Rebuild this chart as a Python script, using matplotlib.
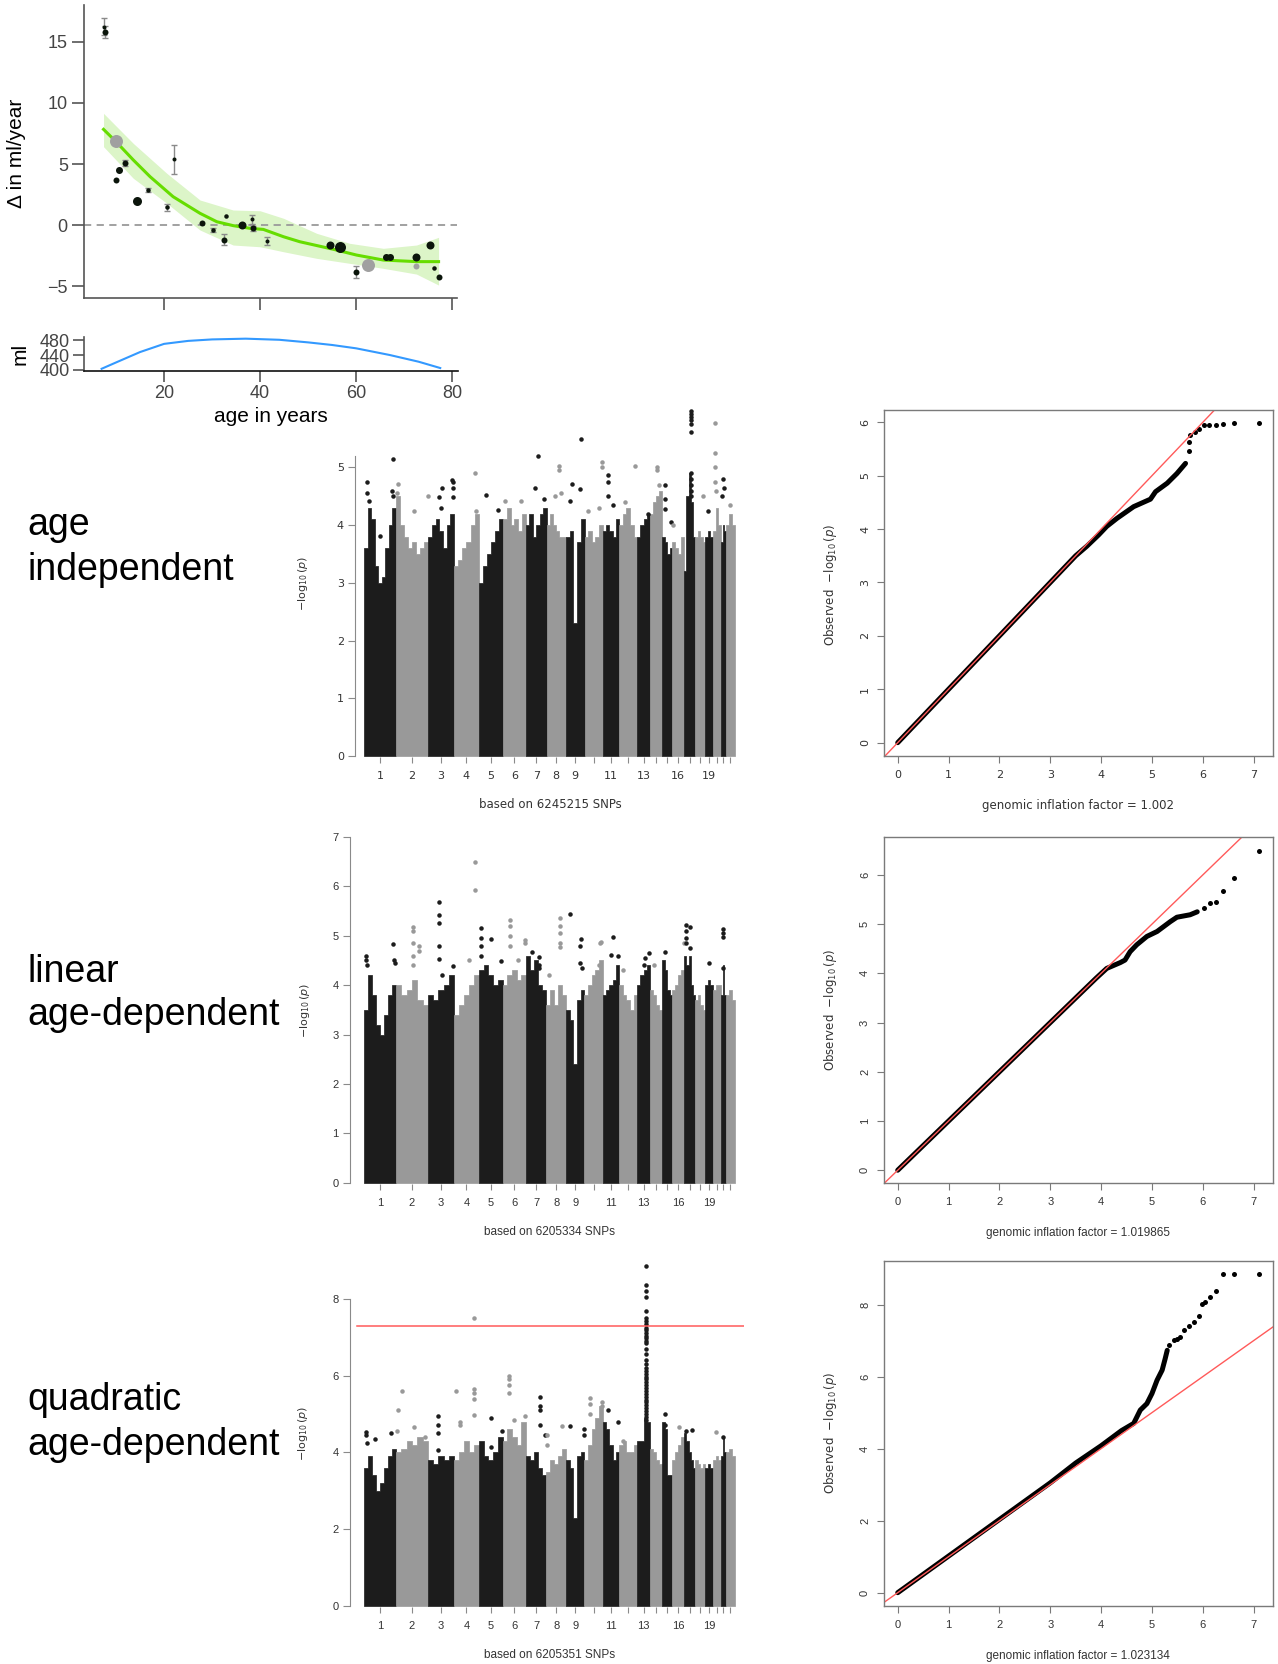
import numpy as np
import matplotlib
matplotlib.use("Agg")
import matplotlib.pyplot as plt

W, H, DPI = 1278, 1664, 100
PX = 72.0 / DPI  # points per pixel

# ---------------- data: top-left panel (delta by age) ----------------
age = [7.4, 7.8, 10.0, 10.6, 10.1, 11.9, 14.4, 16.7, 20.7, 22.1, 28.0, 30.2, 32.9, 32.5,
       36.2, 38.3, 38.5, 41.5, 54.6, 56.7, 60.1, 62.6, 66.3, 67.1, 72.4, 72.6, 75.4, 76.3, 77.3]
delta = [16.26, 15.8, 6.91, 4.51, 3.69, 5.05, 1.94, 2.87, 1.45, 5.38, 0.19, -0.41, 0.74, -1.2,
         -0.03, 0.46, -0.25, -1.31, -1.64, -1.78, -3.83, -3.28, -2.65, -2.65, -2.65, -3.33, -1.64, -3.52, -4.26]
delta_se = [0.7, 0.5, 0, 0, 0, 0.25, 0, 0.15, 0.3, 1.2, 0, 0.2, 0, 0.45,
            0, 0.4, 0.2, 0.35, 0, 0, 0.5, 0, 0, 0, 0, 0, 0, 0, 0]
study_weight = [4, 6, 13, 7, 6, 6, 9, 4.5, 4.5, 4, 6, 4.5, 4.5, 6,
                8, 4, 6, 4, 8, 11, 6, 13, 7, 7, 8, 6, 8, 4.5, 6]
study_group = ['b', 'b', 'g', 'b', 'b', 'b', 'b', 'b', 'b', 'b', 'b', 'b', 'b', 'b',
               'b', 'b', 'b', 'b', 'b', 'b', 'b', 'g', 'b', 'b', 'b', 'g', 'b', 'b', 'b']

fit_age = [7.4, 10, 13.6, 17.1, 21.9, 27.5, 31, 34.4, 37.9, 40.7, 44.9, 48.3, 55.3, 60.1, 65.7, 72.6, 77.2]
fit_val = [7.84, 6.83, 5.33, 3.96, 2.32, 0.96, 0.27, -0.05, -0.27, -0.36, -0.96, -1.37, -1.99, -2.46, -2.87, -3.0, -3.0]
band_age = [7.4, 13.6, 20.6, 27.5, 34.4, 40.0, 44.9, 51.8, 58.7, 65.7, 72.6, 77.2]
band_hi = [9.15, 6.69, 4.23, 2.05, 1.23, 1.17, 0.55, -0.68, -1.5, -1.91, -1.64, -1.01]
band_lo = [6.42, 3.83, 1.78, -0.41, -1.64, -1.78, -2.19, -2.73, -3.14, -3.55, -4.02, -4.92]

vol_age = [7, 10, 15, 20, 25, 30, 37, 44, 50, 55, 60, 67, 73, 77.5]
vol_ml = [403, 420, 448, 470, 478, 482, 484, 481, 474, 467, 458, 440, 422, 405]

# ---------------- data: Manhattan plots ----------------
chrom_span = [247, 252, 199, 194, 186, 179, 160, 150, 145, 140, 129, 140, 101, 93, 78, 93, 85, 78, 60, 62, 39, 70]
chrom_labels = ['1', '2', '3', '4', '5', '6', '7', '8', '9', '', '11', '', '13', '', '', '16', '', '', '19', '', '', '']

env1 = [[3.6, 4.3, 4.1, 3.3, 3.0, 3.1, 3.6, 4.0, 4.3], [4.5, 4.0, 3.8, 3.6, 3.7, 3.5, 3.6, 3.7],
        [3.8, 4.0, 4.1, 3.9, 3.6, 4.0, 4.2], [3.3, 3.4, 3.6, 3.7, 4.0, 4.2], [3.0, 3.3, 3.5, 3.7, 3.9, 4.1],
        [4.1, 4.3, 4.0, 4.1, 3.9, 4.2], [4.0, 4.2, 3.8, 4.0, 4.2, 4.3], [4.0, 4.2, 4.0, 3.9, 3.8, 3.8],
        [3.8, 3.9, 2.3, 3.7, 4.1], [3.8, 3.9, 3.7, 3.8, 4.0], [3.9, 4.0, 3.9, 3.8, 4.1],
        [4.0, 4.2, 4.3, 4.0, 3.8], [3.8, 4.0, 4.1, 4.2], [4.2, 4.4, 4.5, 4.6], [3.8, 3.7, 3.5, 3.6],
        [3.7, 3.6, 3.5, 3.8], [3.2, 4.5, 4.9, 4.4, 3.8], [3.8, 3.9, 3.8, 3.7], [3.8, 3.9, 3.8],
        [3.9, 4.3, 4.0], [3.7, 4.0, 3.9], [4.0, 4.2, 4.0]]
peaks1 = [(1, .08, 4.75), (1, .08, 4.55), (1, .15, 4.42), (1, .5, 3.82), (1, .9, 5.15), (1, .88, 4.6), (1, .9, 4.5),
          (2, .06, 4.72), (2, .05, 4.55), (2, .55, 4.25), (2, .99, 4.5),
          (3, .4, 4.48), (3, .55, 4.65), (3, .5, 4.3), (3, .93, 4.78), (3, .96, 4.75), (3, .95, 4.48), (3, .95, 4.65),
          (4, .85, 4.9), (4, .9, 4.25), (5, .28, 4.52), (5, .78, 4.27), (6, .1, 4.42), (6, .8, 4.42),
          (7, .42, 4.65), (7, .58, 5.2), (7, .9, 4.45),
          (8, .62, 5.02), (8, .62, 4.95), (8, .45, 4.5), (8, .75, 4.55),
          (9, .33, 4.72), (9, .2, 4.42), (9, .75, 4.63), (9, .8, 5.5),
          (10, .2, 4.25), (10, .8, 4.3), (10, .98, 5.1), (10, .98, 5.0),
          (11, .3, 4.87), (11, .3, 4.75), (11, .35, 4.5), (11, .65, 4.35),
          (12, .3, 4.4), (12, .85, 5.02), (13, .8, 4.2),
          (14, .6, 5.0), (14, .6, 4.95), (14, .7, 4.7),
          (15, .3, 4.7), (15, .3, 4.45), (15, .3, 4.28), (15, .85, 4.05), (16, .1, 4.0),
          (17, .6, 5.98), (17, .6, 5.93), (17, .6, 5.88), (17, .6, 5.82), (17, .6, 5.75), (17, .6, 5.62),
          (17, .6, 4.9), (17, .6, 4.8), (17, .6, 4.7), (17, .6, 4.6), (17, .6, 4.5),
          (18, .8, 4.5), (19, .35, 4.25),
          (20, .3, 5.77), (20, .3, 5.25), (20, .3, 5.0), (20, .3, 4.75), (20, .35, 4.6),
          (21, .5, 4.8), (21, .6, 4.65), (21, .3, 4.5), (22, .5, 4.35)]

env2 = [[3.5, 4.2, 3.8, 3.2, 3.0, 3.4, 3.8, 4.0], [4.0, 3.8, 3.9, 4.1, 3.7, 3.6], [3.8, 3.7, 3.9, 4.0, 4.2],
        [3.4, 3.6, 3.8, 4.0, 4.2], [4.3, 4.4, 4.2, 4.0, 4.1], [4.0, 4.2, 4.3, 4.1, 4.2],
        [4.6, 4.3, 4.5, 4.0, 3.9], [3.6, 3.9, 3.6, 4.0, 3.8], [3.5, 3.3, 2.4, 3.7, 3.9],
        [3.8, 4.0, 4.2, 4.3, 4.5], [3.8, 3.9, 4.0, 4.1, 4.4], [4.0, 3.8, 3.7, 3.5, 3.8],
        [4.0, 4.2, 4.3, 4.4], [3.9, 3.8, 3.6, 3.5], [4.5, 4.3, 3.9, 3.8], [3.9, 4.0, 4.2, 4.3],
        [4.6, 4.4, 4.6, 4.0, 3.8], [3.7, 3.8, 3.6, 3.5], [4.0, 4.1, 4.0], [3.9, 4.0, 4.0],
        [3.8, 4.4, 3.8], [3.8, 3.9, 3.7]]
peaks2 = [(1, .08, 4.6), (1, .08, 4.5), (1, .1, 4.4), (1, .9, 4.83), (1, .95, 4.5), (1, .97, 4.45),
          (2, .52, 5.18), (2, .52, 5.1), (2, .52, 4.85), (2, .52, 4.6), (2, .52, 4.4), (2, .72, 4.8), (2, .72, 4.7),
          (3, .43, 5.68), (3, .43, 5.42), (3, .43, 5.25), (3, .43, 4.8), (3, .43, 4.52), (3, .55, 4.2), (3, .95, 4.38),
          (4, .85, 6.5), (4, .85, 5.92), (4, .6, 4.5),
          (5, .08, 5.15), (5, .1, 4.95), (5, .1, 4.8), (5, .1, 4.6), (5, .5, 4.93), (5, .92, 4.48),
          (6, .3, 5.32), (6, .3, 5.2), (6, .3, 5.0), (6, .3, 4.8), (6, .65, 4.5), (6, .98, 4.92), (6, .98, 4.85),
          (7, .3, 4.67), (7, .65, 4.58), (7, .65, 4.4), (7, .65, 4.35),
          (8, .15, 4.2), (8, .7, 5.35), (8, .7, 5.2), (8, .7, 5.05), (8, .7, 4.85), (8, .7, 4.78),
          (9, .22, 5.45), (9, .8, 4.93), (9, .75, 4.8), (9, .75, 4.45), (9, .85, 4.35),
          (10, .9, 4.88), (10, .85, 4.85), (10, .8, 4.4),
          (11, .6, 4.97), (11, .5, 4.62), (11, .95, 4.6), (12, .2, 4.3),
          (13, .6, 4.55), (13, .5, 4.4), (13, .9, 4.65), (14, .3, 4.4), (15, .3, 4.68), (16, .95, 4.85),
          (17, .2, 5.22), (17, .2, 5.1), (17, .2, 4.95), (17, .2, 4.85), (17, .55, 5.17), (17, .55, 4.75),
          (19, .5, 4.45), (21, .5, 5.13), (21, .5, 5.05), (21, .5, 4.98), (21, .5, 4.35)]

env3 = [[3.6, 3.9, 3.4, 3.0, 3.2, 3.6, 3.9, 4.1], [4.0, 4.1, 4.3, 4.2, 4.4, 4.3], [3.8, 3.7, 3.9, 3.8, 3.9],
        [3.8, 4.0, 4.3, 4.0, 4.2], [4.3, 3.9, 3.8, 4.0, 4.4], [4.3, 4.6, 4.4, 4.2, 4.8],
        [3.9, 3.8, 4.0, 3.6, 3.4], [3.5, 3.8, 3.7, 3.9, 4.1], [3.8, 3.6, 2.3, 3.9, 4.0],
        [3.8, 4.2, 4.6, 4.9, 5.2], [4.8, 4.6, 4.2, 3.8, 4.0], [4.2, 4.3, 4.0, 4.0, 4.2],
        [4.3, 4.3, 4.9, 4.8], [4.1, 4.0, 3.8, 3.7], [4.8, 4.6, 3.4, 3.4], [3.8, 4.0, 4.2, 4.4],
        [4.5, 4.3, 4.0, 3.8, 3.6], [3.8, 3.7, 3.6, 3.7], [3.6, 3.7, 3.6], [3.8, 3.9, 3.8],
        [3.9, 4.4, 4.0], [4.0, 4.1, 3.9]]
spike13 = [8.86, 8.35, 8.2, 8.05, 7.68, 7.5, 7.42, 7.35, 7.25, 7.18, 7.1, 7.03, 6.97, 6.9, 6.85, 6.7, 6.55,
           6.4, 6.3, 6.2, 6.12, 6.05, 5.97, 5.9, 5.82, 5.75, 5.68, 5.6, 5.52, 5.45, 5.37, 5.3, 5.22, 5.15,
           5.08, 5.0, 4.92, 4.85]
peaks3 = [(1, .08, 4.52), (1, .08, 4.45), (1, .1, 4.25), (1, .35, 4.35), (1, .85, 4.5),
          (2, .08, 5.1), (2, .2, 5.6), (2, .05, 4.55), (2, .55, 4.65), (2, .9, 4.4),
          (3, .4, 4.95), (3, .4, 4.7), (3, .4, 4.5), (3, .4, 4.05),
          (4, .08, 5.6), (4, .25, 4.8), (4, .25, 4.72), (4, .8, 7.5), (4, .8, 5.65), (4, .8, 5.55),
          (4, .8, 5.38), (4, .8, 4.98),
          (5, .5, 4.9), (5, .5, 4.15), (5, .95, 4.55),
          (6, .25, 6.0), (6, .25, 5.92), (6, .25, 5.75), (6, .25, 5.55), (6, .5, 4.85), (6, .97, 4.95),
          (7, .7, 5.45), (7, .7, 5.2), (7, .7, 5.1), (7, .7, 4.7), (7, .95, 4.45),
          (8, .05, 4.45), (8, .05, 4.2), (8, .8, 4.68),
          (9, .25, 4.68), (9, .95, 4.62), (9, .95, 4.45),
          (10, .3, 5.42), (10, .3, 5.25), (10, .3, 5.0), (10, .95, 5.3), (10, .95, 5.2),
          (11, .3, 5.1), (11, .95, 4.8), (12, .2, 4.3),
          (15, .3, 5.0), (15, .3, 4.7), (16, .6, 4.65), (17, .7, 4.58), (17, .2, 4.55),
          (20, .4, 4.52), (21, .5, 4.4)] + [(13, .7, v) for v in spike13]

snp_counts = ['6245215', '6205334', '6205351']
sig_threshold = 7.3

# ---------------- data: QQ plots ----------------
qq1_dense_x = [0, 3.5, 3.72, 3.95, 4.11, 4.31, 4.64, 4.97, 5.07, 5.3, 5.49, 5.66]
qq1_dense_y = [0, 3.5, 3.68, 3.89, 4.05, 4.2, 4.42, 4.56, 4.7, 4.86, 5.04, 5.23]
qq1_tail_x = [5.72, 5.72, 5.75, 5.85, 5.92, 6.02, 6.12, 6.25, 6.40, 6.61, 7.10]
qq1_tail_y = [5.47, 5.64, 5.76, 5.82, 5.87, 5.94, 5.95, 5.95, 5.96, 5.98, 5.98]

qq2_dense_x = [0, 3.9, 4.11, 4.38, 4.47, 4.57, 4.70, 4.90, 5.10, 5.23, 5.36, 5.49, 5.75, 5.89]
qq2_dense_y = [0, 3.9, 4.10, 4.22, 4.27, 4.44, 4.58, 4.75, 4.85, 4.95, 5.05, 5.14, 5.19, 5.25]
qq2_tail_x = [6.02, 6.14, 6.25, 6.40, 6.61, 7.10]
qq2_tail_y = [5.32, 5.42, 5.44, 5.68, 5.93, 6.49]

qq3_dense_x = [0, 3.0, 3.5, 4.0, 4.4, 4.64, 4.77, 4.90, 5.0, 5.1, 5.2, 5.26, 5.3]
qq3_dense_y = [0, 3.05, 3.6, 4.08, 4.5, 4.7, 5.07, 5.25, 5.53, 5.9, 6.18, 6.5, 6.73]
qq3_tail_x = [5.33, 5.43, 5.5, 5.56, 5.62, 5.72, 5.82, 5.92, 5.98, 6.05, 6.14, 6.25, 6.40, 6.61, 7.10]
qq3_tail_y = [6.87, 7.01, 7.05, 7.10, 7.29, 7.40, 7.52, 7.68, 8.01, 8.08, 8.21, 8.37, 8.86, 8.86, 8.86]

lambdas = ['1.002', '1.019865', '1.023134']
row_titles = [('age', 'independent'), ('linear', 'age-dependent'), ('quadratic', 'age-dependent')]

# ---------------- figure ----------------
fig = plt.figure(figsize=(W / DPI, H / DPI), dpi=DPI)


def rect(x0, y0, x1, y1):
    return [x0 / W, 1 - y1 / H, (x1 - x0) / W, (y1 - y0) / H]


def ftext(x, y, s, **kw):
    fig.text(x / W, 1 - y / H, s, **kw)


HELV = ['Liberation Sans', 'DejaVu Sans']

# ---- top-left main panel ----
axA = fig.add_axes(rect(84, 5, 457, 298))
axA.set_xlim(3.33, 81.04)
axA.set_ylim(-5.98, 18.03)
axA.fill_between(band_age, band_lo, band_hi, color='#dcf5c8', lw=0, zorder=1)
axA.axhline(0, color='#9a9a9a', lw=1.3, ls=(0, (4, 3)), zorder=2)
axA.plot(fit_age, fit_val, color='#66dd00', lw=2.2, zorder=3)
for a, d, se, w, g in zip(age, delta, delta_se, study_weight, study_group):
    if se > 0:
        axA.errorbar(a, d, yerr=se, fmt='none', ecolor='#8a8a8a', elinewidth=1.0,
                     capsize=2.5, capthick=1.0, zorder=4)
    axA.scatter([a], [d], s=(w * PX) ** 2, color='#0b150b' if g == 'b' else '#a0a0a0',
                lw=0, zorder=5)
for sp in ['top', 'right']:
    axA.spines[sp].set_visible(False)
for sp in ['left', 'bottom']:
    axA.spines[sp].set_color('#555555')
    axA.spines[sp].set_linewidth(1.2)
axA.set_yticks([-5, 0, 5, 10, 15])
axA.set_yticklabels(['\u22125', '0', '5', '10', '15'])
axA.set_xticks([20, 40, 60, 80])
axA.set_xticklabels([])
axA.tick_params(axis='both', length=12 * PX, width=1.2, color='#555555', labelsize=13,
                labelcolor='#444444', pad=3)
for t in axA.get_yticklabels():
    t.set_fontfamily(HELV)

# ---- top-left volume panel ----
axB = fig.add_axes(rect(84, 337, 458, 371))
axB.set_xlim(3.33, 81.2)
axB.set_ylim(397, 488.5)
axB.plot(vol_age, vol_ml, color='#3399ff', lw=1.5)
for sp in ['top', 'right']:
    axB.spines[sp].set_visible(False)
axB.spines['left'].set_color('#555555')
axB.spines['bottom'].set_color('#111111')
axB.spines['left'].set_linewidth(1.2)
axB.spines['bottom'].set_linewidth(1.2)
axB.set_yticks([400, 440, 480])
axB.set_xticks([20, 40, 60, 80])
axB.tick_params(axis='both', length=11 * PX, width=1.2, color='#555555', labelsize=13,
                labelcolor='#444444', pad=2)
for t in axB.get_yticklabels() + axB.get_xticklabels():
    t.set_fontfamily(HELV)
ftext(271, 417, 'age in years', ha='center', va='center', fontsize=15, family=HELV)
ftext(17, 153, '\u0394 in ml/year', ha='center', va='center', rotation=90, fontsize=15, family=HELV)
ftext(20, 354, 'ml', ha='center', va='center', rotation=90, fontsize=15, family=HELV)

# ---- row titles ----
for (l1, l2), yb in zip(row_titles, [(535, 580), (982, 1025), (1410, 1455)]):
    ftext(27, yb[0], l1, ha='left', va='baseline', fontsize=27, family=HELV)
    ftext(27, yb[1], l2, ha='left', va='baseline', fontsize=27, family=HELV)

# ---- Manhattan plots ----
BLACK, GRAY = '#1c1c1c', '#999999'
starts = np.concatenate([[0], np.cumsum(chrom_span)[:-1]])
mids = starts + np.array(chrom_span) / 2.0

man_specs = [
    dict(r=(355, 404, 744, 757), xl=-70, yl=(-0.017, 6.1), ticks=[0, 1, 2, 3, 4, 5], sb=5.2,
         env=env1, peaks=peaks1, fam=['DejaVu Sans'], ylab=(303, 583), xlab=(550, 805), sig=False),
    dict(r=(350, 836, 744, 1184), xl=-108, yl=(-0.026, 7.02), ticks=[0, 1, 2, 3, 4, 5, 6, 7], sb=7,
         env=env2, peaks=peaks2, fam=HELV, ylab=(305, 1010), xlab=(550, 1232), sig=False),
    dict(r=(350, 1258, 744, 1607), xl=-108, yl=(-0.026, 9.06), ticks=[0, 2, 4, 6, 8], sb=8,
         env=env3, peaks=peaks3, fam=HELV, ylab=(303, 1433), xlab=(550, 1655), sig=True),
]

for k, sp in enumerate(man_specs):
    ax = fig.add_axes(rect(*sp['r']))
    ax.set_xlim(sp['xl'], 2950)
    ax.set_ylim(*sp['yl'])
    for i, (s, L, e) in enumerate(zip(starts, chrom_span, sp['env'])):
        col = BLACK if i % 2 == 0 else GRAY
        n = len(e)
        # step-shaped envelope: each reading covers an equal slice of the chromosome
        edges = s + L * np.arange(n + 1) / n
        xs = np.repeat(edges, 2)[1:-1]
        ys = np.repeat(e, 2)
        ax.fill_between(xs, 0, ys, color=col, lw=0.5, edgecolor=col)
    for c, f, v in sp['peaks']:
        col = BLACK if (c - 1) % 2 == 0 else GRAY
        ax.plot(starts[c - 1] + f * chrom_span[c - 1], v, 'o', color=col, ms=4.5 * PX, mew=0)
    if sp['sig']:
        ax.axhline(sig_threshold, xmin=0.018, xmax=1, color='#ff5a5a', lw=1.1)
    for s_ in ['top', 'right', 'bottom']:
        ax.spines[s_].set_visible(False)
    ax.spines['left'].set_color('#8a8a8a')
    ax.spines['left'].set_bounds(0, sp['sb'])
    ax.set_yticks(sp['ticks'])
    ax.set_xticks(mids)
    ax.set_xticklabels(chrom_labels)
    ax.tick_params(axis='y', length=7 * PX, color='#8a8a8a', labelsize=8, labelcolor='#333333', pad=3)
    ax.tick_params(axis='x', length=6 * PX, color='#8a8a8a', labelsize=8, labelcolor='#333333', pad=6)
    for t in ax.get_yticklabels() + ax.get_xticklabels():
        t.set_fontfamily(sp['fam'])
    ax.patch.set_alpha(0)
    ftext(sp['ylab'][0], sp['ylab'][1], r'$-\log_{10}(p)$', ha='center', va='center', rotation=90,
          fontsize=8, color='#333333')
    ftext(sp['xlab'][0], sp['xlab'][1], 'based on %s SNPs' % snp_counts[k], ha='center', va='center',
          fontsize=8.5, color='#333333', family=sp['fam'])

# ---- QQ plots ----
qq_specs = [
    dict(r=(884, 410, 1273, 756), yl=(-0.25, 6.23), ticks=[0, 1, 2, 3, 4, 5, 6],
         dx=qq1_dense_x, dy=qq1_dense_y, tx=qq1_tail_x, ty=qq1_tail_y, fam=['DejaVu Sans'], yc=585, xc=806),
    dict(r=(884, 837, 1273, 1183), yl=(-0.26, 6.77), ticks=[0, 1, 2, 3, 4, 5, 6],
         dx=qq2_dense_x, dy=qq2_dense_y, tx=qq2_tail_x, ty=qq2_tail_y, fam=HELV, yc=1010, xc=1233),
    dict(r=(884, 1261, 1273, 1606), yl=(-0.37, 9.21), ticks=[0, 2, 4, 6, 8],
         dx=qq3_dense_x, dy=qq3_dense_y, tx=qq3_tail_x, ty=qq3_tail_y, fam=HELV, yc=1433, xc=1656),
]
for k, sp in enumerate(qq_specs):
    ax = fig.add_axes(rect(*sp['r']))
    ax.set_xlim(-0.27, 7.38)
    ax.set_ylim(*sp['yl'])
    ax.plot(sp['dx'], sp['dy'], color='black', lw=5 * PX, solid_capstyle='round', solid_joinstyle='round')
    ax.plot(sp['tx'], sp['ty'], 'o', color='black', ms=5 * PX, mew=0)
    ax.axline((0, 0), slope=1, color='#ff5a5a', lw=1.0)
    for s_ in ax.spines.values():
        s_.set_color('#7a7a7a')
        s_.set_linewidth(1.0)
    ax.set_xticks(range(0, 8))
    ax.set_yticks(sp['ticks'])
    ax.tick_params(axis='both', length=7 * PX, color='#7a7a7a', labelsize=8, labelcolor='#333333')
    ax.tick_params(axis='x', pad=5)
    ax.tick_params(axis='y', pad=5, labelrotation=90)
    for t in ax.get_yticklabels():
        t.set_va('center')
    for t in ax.get_yticklabels() + ax.get_xticklabels():
        t.set_fontfamily(sp['fam'])
    ftext(830, sp['yc'], r'Observed  $-\log_{10}(p)$', ha='center', va='center', rotation=90,
          fontsize=8.5, color='#333333')
    ftext(1078, sp['xc'], 'genomic inflation factor = %s' % lambdas[k], ha='center', va='center',
          fontsize=8.5, color='#333333', family=sp['fam'])

fig.savefig('out.png', dpi=DPI, facecolor='white')
